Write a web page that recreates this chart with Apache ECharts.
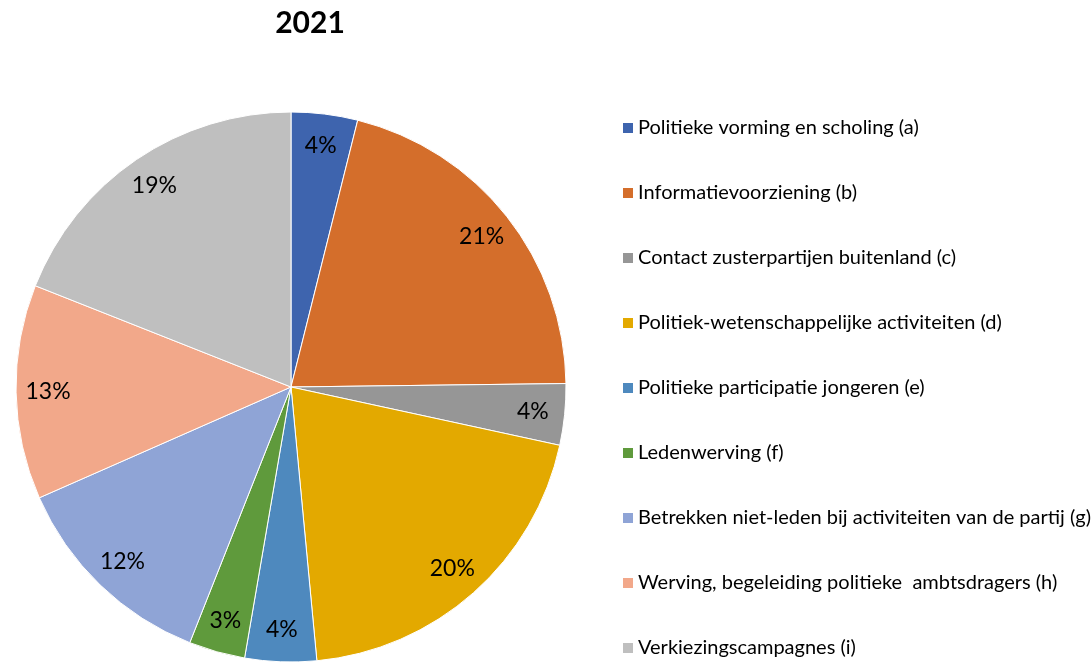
<!DOCTYPE html>
<html>
<head>
<meta charset="utf-8">
<script src="https://cdn.jsdelivr.net/npm/echarts@6/dist/echarts.min.js"></script>
<style>html,body{margin:0;padding:0;background:#fff}#c{width:1092px;height:663px}</style>
</head>
<body>
<div id="c"></div>
<script>
const categories = [
  'Politieke vorming en scholing (a)',
  'Informatievoorziening (b)',
  'Contact zusterpartijen buitenland (c)',
  'Politiek-wetenschappelijke activiteiten (d)',
  'Politieke participatie jongeren (e)',
  'Ledenwerving (f)',
  'Betrekken niet-leden bij activiteiten van de partij (g)',
  'Werving, begeleiding politieke  ambtsdragers (h)',
  'Verkiezingscampagnes (i)'
];
const values = [3.9, 20.9, 3.6, 20.1, 4.2, 3.3, 12.4, 12.6, 19.0];
const colors = ['#3E64AE', '#D46E2B', '#969696', '#E3A900', '#4E89BE', '#5F9A3C', '#8FA4D6', '#F2A88A', '#BFBFBF'];
const title = '2021';

const chart = echarts.init(document.getElementById('c'));
const data = categories.map((n, i) => ({ name: n, value: values[i], itemStyle: { color: colors[i] } }));
chart.setOption({
  animation: false,
  title: {
    text: title, left: 305, top: 3, textAlign: 'center',
    textStyle: { fontFamily: 'Lato', fontWeight: 'bold', fontSize: 30, color: '#000' }
  },
  legend: {
    orient: 'vertical', left: 616, top: 112, height: 620,
    itemWidth: 12, itemHeight: 12, itemGap: 43,
    icon: 'rect',
    textStyle: { fontFamily: 'Lato', fontSize: 20, color: '#000', lineHeight: 22, padding: [0, 0, 0, -1] },
    data: categories
  },
  series: [
    {
      type: 'pie', center: [291, 387], radius: [0, 275], startAngle: 90,
      label: { show: false }, labelLine: { show: false },
      itemStyle: { borderColor: '#fff', borderWidth: 1 },
      emphasis: { disabled: true },
      data: data
    },
    {
      type: 'pie', center: [291, 387], radius: [205, 275], startAngle: 90,
      silent: true, legendHoverLink: false,
      itemStyle: { color: 'rgba(0,0,0,0)', borderWidth: 0 },
      label: {
        show: true, position: 'inside',
        fontFamily: 'Lato', fontSize: 23, color: '#000',
        formatter: p => Math.round(p.value) + '%'
      },
      labelLine: { show: false },
      emphasis: { disabled: true },
      tooltip: { show: false },
      data: categories.map((n, i) => ({ name: n + ' ', value: values[i] }))
    }
  ]
});
</script>
</body>
</html>
